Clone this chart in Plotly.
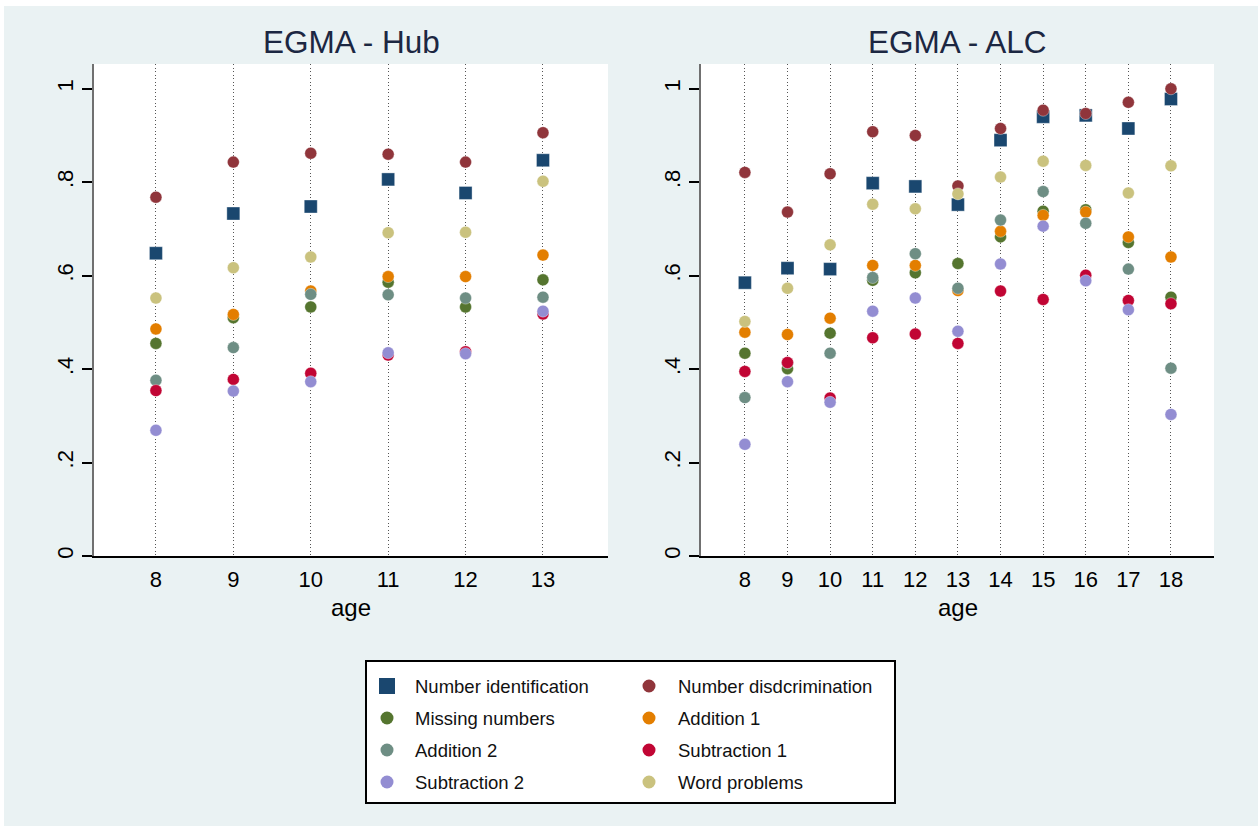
import plotly.graph_objects as go

# ---- data -------------------------------------------------------------
ages_hub = [8, 9, 10, 11, 12, 13]
ages_alc = [8, 9, 10, 11, 12, 13, 14, 15, 16, 17, 18]

series_names = [
    "Number identification", "Number disdcrimination", "Missing numbers",
    "Addition 1", "Addition 2", "Subtraction 1", "Subtraction 2", "Word problems",
]

hub_number_id = [0.648, 0.733, 0.748, 0.806, 0.777, 0.847]
hub_number_disc = [0.768, 0.843, 0.862, 0.860, 0.843, 0.906]
hub_missing = [0.455, 0.510, 0.533, 0.586, 0.533, 0.591]
hub_addition1 = [0.486, 0.517, 0.567, 0.598, 0.598, 0.644]
hub_addition2 = [0.376, 0.446, 0.560, 0.559, 0.552, 0.554]
hub_subtraction1 = [0.354, 0.378, 0.391, 0.430, 0.437, 0.518]
hub_subtraction2 = [0.269, 0.353, 0.373, 0.435, 0.433, 0.524]
hub_word = [0.552, 0.617, 0.640, 0.692, 0.693, 0.802]

alc_number_id = [0.585, 0.616, 0.614, 0.798, 0.791, 0.752, 0.890, 0.940, 0.943, 0.915, 0.978]
alc_number_disc = [0.821, 0.736, 0.818, 0.908, 0.900, 0.792, 0.915, 0.954, 0.947, 0.971, 1.000]
alc_missing = [0.434, 0.401, 0.477, 0.590, 0.606, 0.626, 0.683, 0.738, 0.741, 0.671, 0.554]
alc_addition1 = [0.479, 0.474, 0.509, 0.622, 0.622, 0.568, 0.695, 0.729, 0.736, 0.683, 0.640]
alc_addition2 = [0.339, 0.413, 0.434, 0.596, 0.647, 0.573, 0.719, 0.780, 0.712, 0.614, 0.402]
alc_subtraction1 = [0.395, 0.414, 0.338, 0.467, 0.475, 0.455, 0.567, 0.549, 0.601, 0.547, 0.540]
alc_subtraction2 = [0.239, 0.373, 0.329, 0.524, 0.552, 0.481, 0.625, 0.706, 0.589, 0.527, 0.303]
alc_word = [0.502, 0.573, 0.666, 0.753, 0.743, 0.775, 0.811, 0.845, 0.836, 0.777, 0.835]

y_tick_vals = [0, 0.2, 0.4, 0.6, 0.8, 1]
y_tick_text = ["0", ".2", ".4", ".6", ".8", "1"]

# ---- styling ----------------------------------------------------------
colors = ["#1A476F", "#90353B", "#55752F", "#E37E00",
          "#6E8E84", "#C10534", "#938DD2", "#CAC27E"]
symbols = ["square"] + ["circle"] * 7
hub_values = [hub_number_id, hub_number_disc, hub_missing, hub_addition1,
              hub_addition2, hub_subtraction1, hub_subtraction2, hub_word]
alc_values = [alc_number_id, alc_number_disc, alc_missing, alc_addition1,
              alc_addition2, alc_subtraction1, alc_subtraction2, alc_word]

FONT = "Liberation Sans, Arial, sans-serif"
BG = "#EAF2F3"

W, H = 1258, 829
L, R, T, B = 94, 44, 64, 273
PW, PH = W - L - R, H - T - B


def px(x):
    return (x - L) / PW


def py(y):
    return 1 - (y - T) / PH


fig = go.Figure()

for name, color, sym, hv, av in zip(series_names, colors, symbols, hub_values, alc_values):
    size = 13 if sym == "square" else 12
    for xs, ys, xa, ya in ((ages_hub, hv, "x", "y"), (ages_alc, av, "x2", "y2")):
        fig.add_trace(go.Scatter(
            x=xs, y=ys, mode="markers", name=name, showlegend=False,
            xaxis=xa, yaxis=ya,
            marker=dict(color=color, symbol=sym, size=size,
                        line=dict(width=0.6, color="rgba(255,255,255,0.6)")),
        ))

xaxis_common = dict(
    showgrid=True, gridcolor="#555555", gridwidth=1.3, griddash="1.3px,2.2px",
    showline=True, linecolor="black", linewidth=1.5,
    ticks="outside", ticklen=3, tickcolor="rgba(0,0,0,0)",
    tickfont=dict(family=FONT, size=22, color="black"),
    zeroline=False, automargin=False, fixedrange=True,
)
yaxis_common = dict(
    range=[0, 1.053], tickvals=y_tick_vals, ticktext=y_tick_text,
    tickangle=-90, ticks="outside", ticklen=10, tickwidth=1.5, tickcolor="black",
    tickfont=dict(family=FONT, size=22, color="black"),
    showline=True, linecolor="#707070", linewidth=1.5,
    showgrid=False, zeroline=False, automargin=False, fixedrange=True,
)

fig.update_layout(
    template="none",
    width=W, height=H,
    margin=dict(l=L, r=R, t=T, b=B, pad=0),
    paper_bgcolor=BG, plot_bgcolor="white",
    showlegend=False,
    font=dict(family=FONT, color="black"),
    xaxis=dict(domain=[0, px(608)], range=[7.2, 13.84], tickvals=ages_hub,
               anchor="y", **xaxis_common),
    yaxis=dict(domain=[0, 1], anchor="x", **yaxis_common),
    xaxis2=dict(domain=[px(701), 1], range=[6.97, 19.01], tickvals=ages_alc,
                anchor="y2", **xaxis_common),
    yaxis2=dict(domain=[0, 1], anchor="x2", **yaxis_common),
)

annotations = []
shapes = []

# panel titles and axis titles
for cx, title in ((351, "EGMA - Hub"), (957.5, "EGMA - ALC")):
    annotations.append(dict(
        x=px(cx), y=py(42), xref="paper", yref="paper", text=title,
        showarrow=False, xanchor="center", yanchor="middle",
        font=dict(family=FONT, size=31.5, color="#1c2742"),
    ))
    annotations.append(dict(
        x=px(cx), y=py(607), xref="paper", yref="paper", text="age",
        showarrow=False, xanchor="center", yanchor="middle",
        font=dict(family=FONT, size=24, color="black"),
    ))

# legend box
shapes.append(dict(type="rect", xref="paper", yref="paper",
                   x0=px(366), x1=px(895), y0=py(803), y1=py(661),
                   line=dict(color="black", width=2), fillcolor="white",
                   layer="above"))

col_marker_x = [387, 649]
col_text_x = [413, 676]
row_y = [686, 718, 750, 782]
for i, (name, color, sym) in enumerate(zip(series_names, colors, symbols)):
    row, col = divmod(i, 2)
    mx, my = col_marker_x[col], row_y[row]
    if sym == "square":
        hs = 8
        shapes.append(dict(type="rect", xref="paper", yref="paper",
                           x0=px(mx - hs), x1=px(mx + hs), y0=py(my + hs), y1=py(my - hs),
                           fillcolor=color, line=dict(width=0), layer="above"))
    else:
        rr = 6.5
        shapes.append(dict(type="circle", xref="paper", yref="paper",
                           x0=px(mx - rr), x1=px(mx + rr), y0=py(my + rr), y1=py(my - rr),
                           fillcolor=color, line=dict(width=0), layer="above"))
    annotations.append(dict(
        x=px(col_text_x[col]), y=py(my), xref="paper", yref="paper", text=name,
        showarrow=False, xanchor="left", yanchor="middle",
        font=dict(family=FONT, size=18.5, color="#111111"),
    ))

# thin white frame strips along the page edges
for x0, x1, y0, y1 in ((0, W, 0, 6), (0, 4, 0, H), (0, W, 826, H)):
    shapes.append(dict(type="rect", xref="paper", yref="paper",
                       x0=px(x0), x1=px(x1), y0=py(y1), y1=py(y0),
                       fillcolor="white", line=dict(width=0), layer="above"))

fig.update_layout(annotations=annotations, shapes=shapes)

fig.write_html("out.html")
